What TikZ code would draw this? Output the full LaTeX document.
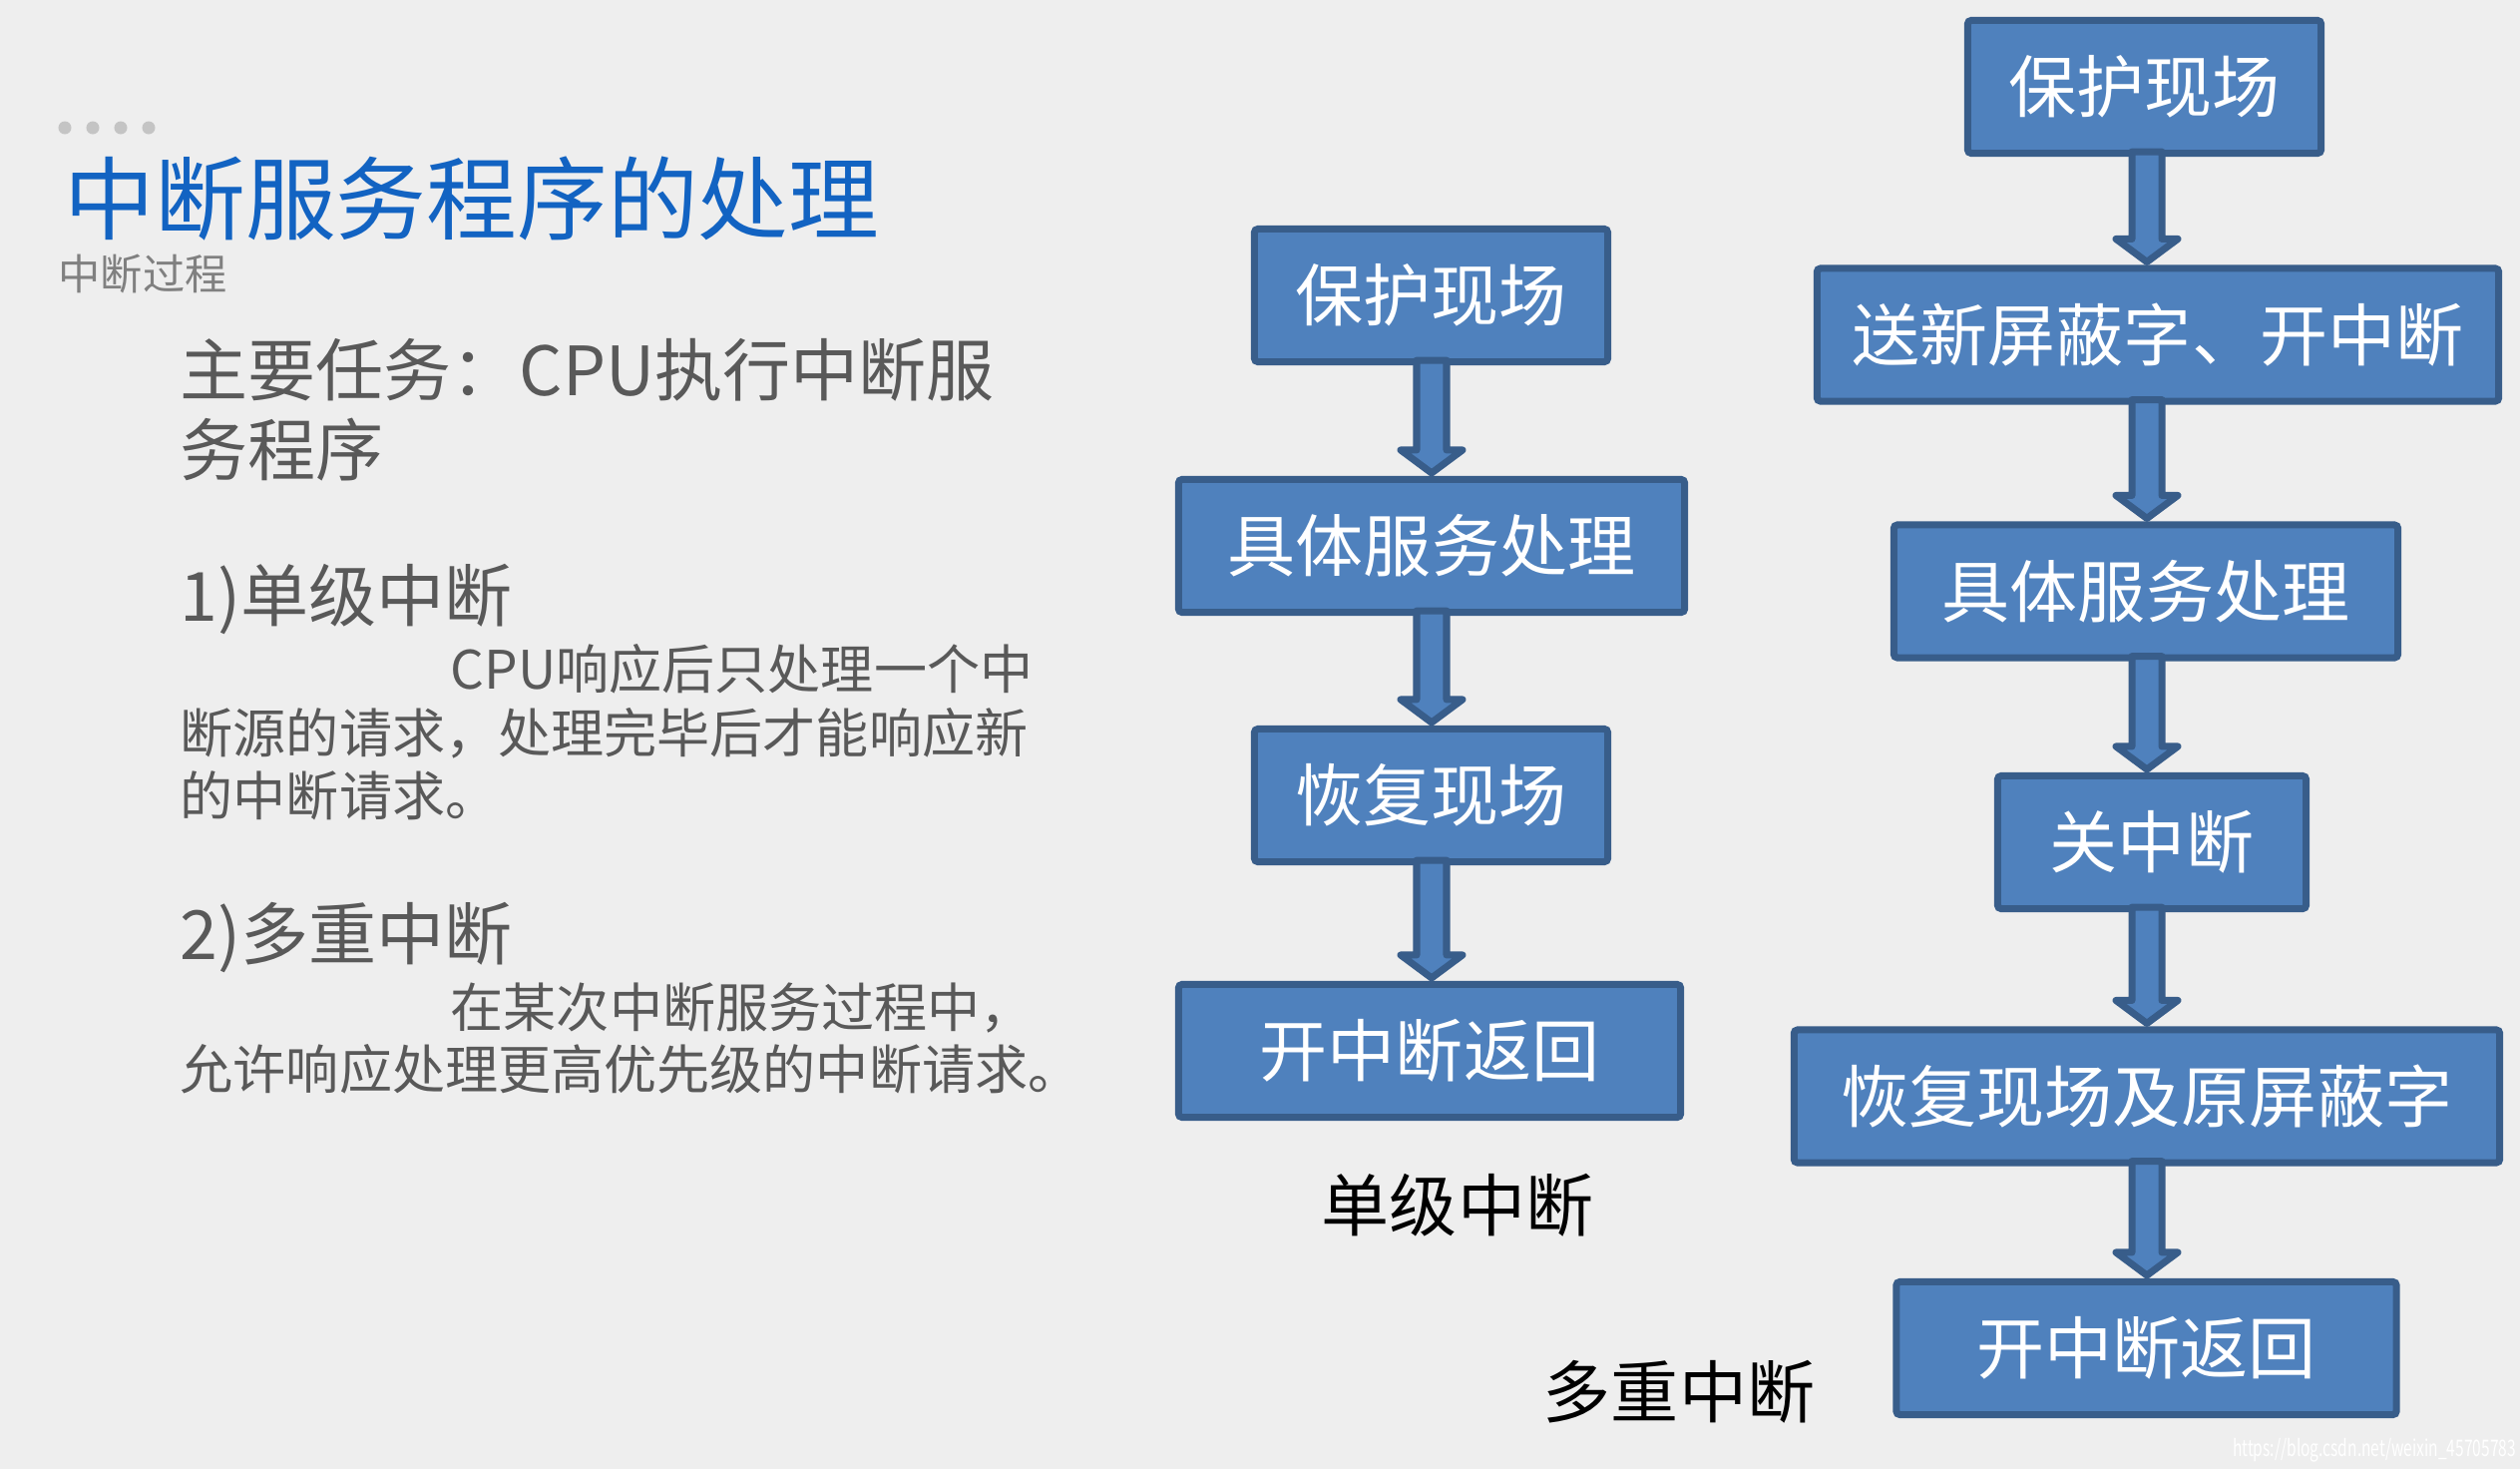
\documentclass[tikz,border=0pt]{standalone}
\usepackage{fontspec}
\setmainfont{Noto Sans CJK SC}
\usetikzlibrary{calc}
\definecolor{bg}{RGB}{238,238,238}
\definecolor{boxfill}{RGB}{79,129,189}
\definecolor{boxline}{RGB}{56,93,138}
\definecolor{titleblue}{RGB}{18,99,194}
\definecolor{bodygray}{RGB}{89,89,89}
\definecolor{subgray}{RGB}{128,128,128}
\definecolor{dotgray}{RGB}{196,196,196}
\newcommand{\fsz}[1]{\fontsize{#1}{#1}\selectfont}
\newcommand{\flowarrow}[3]{%
  \draw[flowarr] ($(#1.south -| #3)+(-15,-5)$) -- ($(#2.north -| #3)+(-15,-26)$)
    -- ($(#2.north -| #3)+(-31,-26)$) -- ($(#2.north -| #3)+(0,-3)$)
    -- ($(#2.north -| #3)+(31,-26)$) -- ($(#2.north -| #3)+(15,-26)$)
    -- ($(#1.south -| #3)+(15,-5)$) -- cycle;}
\tikzset{
  box/.style={draw=boxline, line width=2pt, fill=boxfill, text=white,
    font=\fsz{19.35pt}, inner sep=0pt, minimum height=1.33cm, rounded corners=1pt},
  flowarr/.style={draw=boxline, line width=2pt, fill=boxfill, line join=round},
  title/.style={anchor=west, inner sep=0pt, text=titleblue, font=\fsz{25.8pt}},
  subtitle/.style={anchor=west, inner sep=0pt, text=subgray, font=\fsz{12pt}},
  body/.style={anchor=west, inner sep=0pt, text=bodygray, font=\fsz{19.35pt}},
  para/.style={anchor=west, inner sep=0pt, text=bodygray, font=\fsz{15.1pt}},
  caption/.style={inner sep=0pt, text=black, font=\fsz{19.35pt}},
}
\begin{document}
\begin{tikzpicture}[x=0.01cm,y=-0.01cm]
\path[use as bounding box, fill=bg] (0,0) rectangle (2526,1472);

% decorative dots
\foreach \dx in {65,93,121,149} \fill[dotgray] (\dx,128) circle [radius=0.065cm];

% left text
\node[title] (title) at (64,199) {中断服务程序的处理};
\node[subtitle] (sub) at (58,275) {中断过程};
\node[body] (task1) at (180,371) {主要任务：CPU执行中断服};
\node[body] (task2) at (180,451) {务程序};
\node[body] (single) at (180,601) {1)单级中断};
\node[para] (s1) at (451,670) {CPU响应后只处理一个中};
\node[para] (s2) at (180,735) {断源的请求，处理完毕后才能响应新};
\node[para] (s3) at (180,797) {的中断请求。};
\node[body] (multi) at (180,940) {2)多重中断};
\node[para] (m1) at (451,1010) {在某次中断服务过程中，};
\node[para] (m2) at (180,1071) {允许响应处理更高优先级的中断请求。};

% left flow chart
\coordinate (lx) at (1435,0);
\node[box, minimum width=3.54cm] (l1) at (1434.5,296) {保护现场};
\node[box, minimum width=5.07cm] (l2) at (1435,547) {具体服务处理};
\node[box, minimum width=3.54cm] (l3) at (1434.5,797) {恢复现场};
\node[box, minimum width=5.03cm] (l4) at (1433,1053) {开中断返回};
\flowarrow{l1}{l2}{lx}
\flowarrow{l2}{l3}{lx}
\flowarrow{l3}{l4}{lx}
\node[caption] (lcap) at (1461,1208) {单级中断};

% right flow chart
\coordinate (rx) at (2152,0);
\node[box, minimum width=3.54cm] (r1) at (2149.5,87) {保护现场};
\node[box, minimum width=6.83cm] (r2) at (2163,335.5) {送新屏蔽字、开中断};
\node[box, minimum width=5.05cm] (r3) at (2151,592.5) {具体服务处理};
\node[box, minimum width=3.09cm] (r4) at (2157,844) {关中断};
\node[box, minimum width=7.07cm] (r5) at (2152,1098.5) {恢复现场及原屏蔽字};
\node[box, minimum width=5.01cm] (r6) at (2151.5,1351) {开中断返回};
\flowarrow{r1}{r2}{rx}
\flowarrow{r2}{r3}{rx}
\flowarrow{r3}{r4}{rx}
\flowarrow{r4}{r5}{rx}
\flowarrow{r5}{r6}{rx}
\node[caption] (rcap) at (1683,1395) {多重中断};

% watermark
\node[inner sep=0pt, text=white, font=\fsz{6.5pt}] (wm) at (2380,1453)
  {\scalebox{0.68}[1]{https://blog.csdn.net/weixin\_45705783}};
\end{tikzpicture}
\end{document}
